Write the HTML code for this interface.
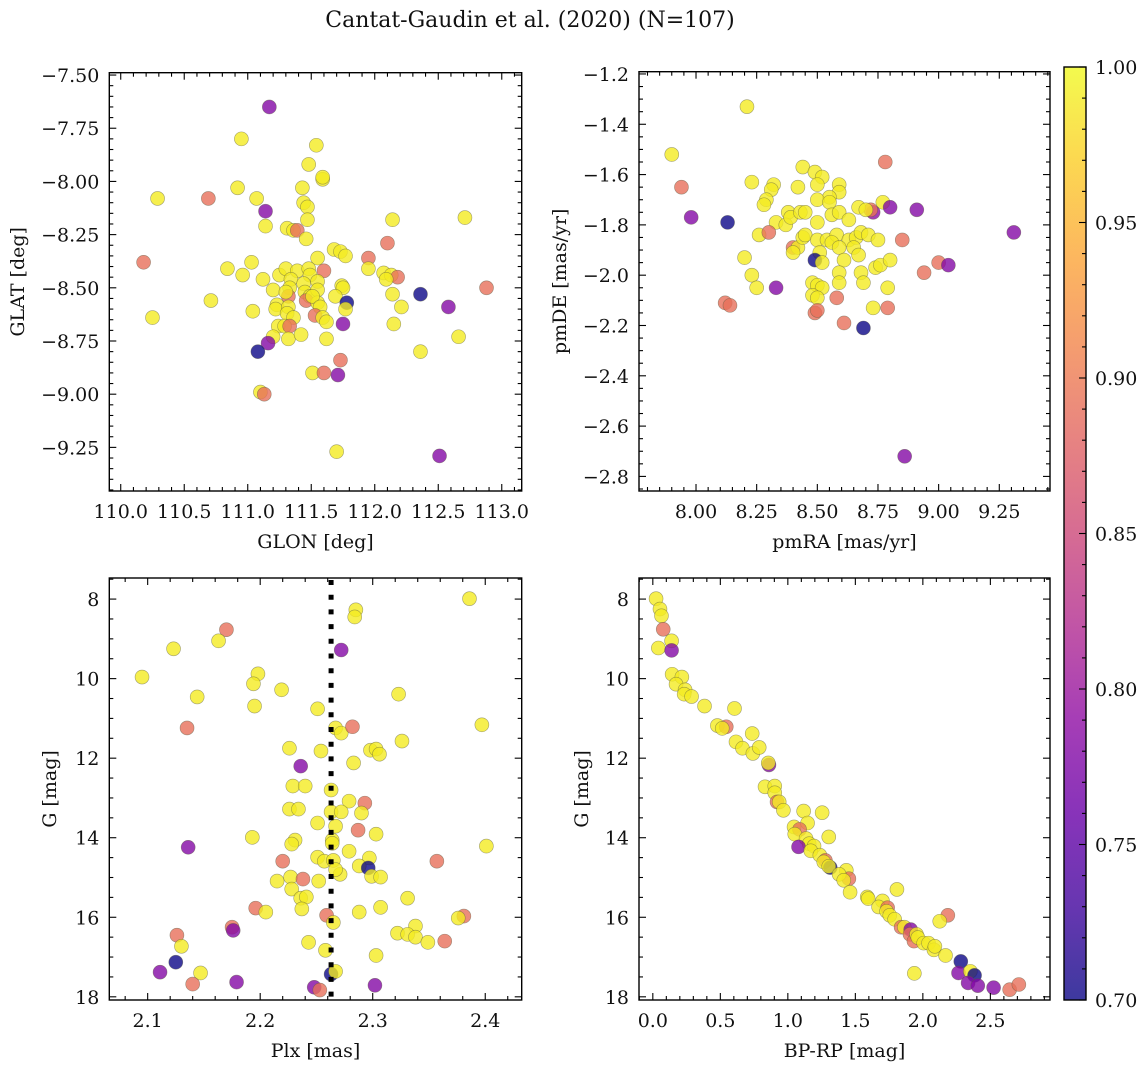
<!DOCTYPE html>
<html><head><meta charset="utf-8"><style>
html,body{margin:0;padding:0;background:#fff;}
svg text{font-family:"DejaVu Serif","Liberation Serif",serif;fill:#111;}
</style></head><body>
<svg id="fig" width="1148" height="1067" viewBox="0 0 1148 1067" xmlns="http://www.w3.org/2000/svg">
<text x="530" y="27" font-size="22" text-anchor="middle">Cantat-Gaudin et al. (2020) (N=107)</text>
</svg>
<script>
// ---------- data (y=0.99, s=0.89, p=0.78, n=0.70) ----------
const p1_glon=[111.17,110.29,110.69,110.18,110.25,110.95,110.92,111.07,111.14,111.14,111.31,111.36,111.39,111.46,111.43,111.44,111.47,111.47,111.59,112.14,112.10,111.95,111.95,112.07,112.13,112.18,112.09,112.36,112.14,112.21,112.15,112.36,111.68,111.73,111.77,111.55,111.60,110.84,111.03,110.96,111.12,111.25,111.30,111.39,111.48,111.49,111.34,111.20,111.33,111.32,111.30,111.44,111.45,111.49,111.46,111.55,111.55,111.55,111.51,111.57,111.53,111.59,111.62,111.74,111.75,111.69,111.78,111.77,111.75,111.04,111.23,111.22,111.32,111.31,111.36,111.24,111.29,111.33,111.20,111.32,111.42,111.62,111.16,111.08,111.73,111.51,111.60,111.71,110.71,111.10,111.13,111.48,111.54,111.59,111.70,112.71,112.88,112.51,112.58,112.66];
const p1_glat=[-7.65,-8.08,-8.08,-8.38,-8.64,-7.80,-8.03,-8.08,-8.14,-8.21,-8.22,-8.23,-8.23,-8.27,-8.03,-8.10,-8.12,-8.18,-7.99,-8.18,-8.29,-8.36,-8.41,-8.43,-8.44,-8.45,-8.46,-8.53,-8.53,-8.59,-8.67,-8.80,-8.32,-8.33,-8.35,-8.36,-8.42,-8.41,-8.38,-8.44,-8.46,-8.44,-8.41,-8.42,-8.41,-8.44,-8.46,-8.51,-8.50,-8.54,-8.52,-8.48,-8.52,-8.54,-8.56,-8.47,-8.51,-8.57,-8.54,-8.59,-8.63,-8.64,-8.66,-8.49,-8.50,-8.54,-8.57,-8.60,-8.67,-8.61,-8.58,-8.60,-8.59,-8.62,-8.64,-8.68,-8.68,-8.68,-8.73,-8.74,-8.72,-8.74,-8.76,-8.80,-8.84,-8.90,-8.90,-8.91,-8.56,-8.99,-9.00,-7.92,-7.83,-7.98,-9.27,-8.17,-8.50,-9.29,-8.59,-8.73];
const p1_prob=[0.78,0.99,0.89,0.89,0.99,0.99,0.99,0.99,0.78,0.99,0.99,0.99,0.89,0.99,0.99,0.99,0.99,0.99,0.99,0.99,0.89,0.89,0.99,0.99,0.99,0.89,0.99,0.70,0.99,0.99,0.99,0.99,0.99,0.99,0.99,0.99,0.89,0.99,0.99,0.99,0.99,0.99,0.99,0.99,0.99,0.99,0.99,0.99,0.99,0.89,0.99,0.99,0.99,0.99,0.89,0.99,0.99,0.99,0.99,0.99,0.89,0.99,0.99,0.99,0.99,0.99,0.70,0.99,0.78,0.99,0.99,0.99,0.99,0.99,0.99,0.99,0.99,0.89,0.99,0.99,0.99,0.99,0.78,0.70,0.89,0.99,0.89,0.78,0.99,0.99,0.89,0.99,0.99,0.99,0.99,0.99,0.89,0.78,0.78,0.99];

const p2_pmra=[7.90,7.94,7.98,8.21,8.13,8.12,8.14,8.23,8.32,8.31,8.29,8.28,8.44,8.49,8.52,8.42,8.50,8.59,8.59,8.55,8.50,8.55,8.78,8.77,8.73,8.72,8.80,8.91,8.38,8.33,8.37,8.39,8.43,8.45,8.50,8.56,8.59,8.63,8.67,8.70,8.26,8.30,8.40,8.42,8.40,8.44,8.45,8.50,8.54,8.58,8.63,8.66,8.68,8.71,8.75,8.56,8.59,8.65,8.51,8.49,8.52,8.61,8.67,8.74,8.76,8.80,8.85,8.94,9.00,9.04,9.31,8.20,8.23,8.25,8.33,8.59,8.59,8.68,8.69,8.48,8.50,8.52,8.48,8.50,8.58,8.79,8.73,8.79,8.49,8.50,8.61,8.69,8.86];
const p2_pmde=[-1.52,-1.65,-1.77,-1.33,-1.79,-2.11,-2.12,-1.63,-1.64,-1.66,-1.70,-1.72,-1.57,-1.59,-1.61,-1.65,-1.64,-1.64,-1.67,-1.69,-1.70,-1.71,-1.55,-1.71,-1.75,-1.74,-1.73,-1.74,-1.75,-1.79,-1.80,-1.77,-1.75,-1.75,-1.79,-1.76,-1.75,-1.78,-1.73,-1.74,-1.84,-1.83,-1.89,-1.89,-1.91,-1.85,-1.84,-1.86,-1.86,-1.84,-1.86,-1.85,-1.83,-1.84,-1.86,-1.87,-1.89,-1.89,-1.91,-1.94,-1.95,-1.94,-1.92,-1.97,-1.96,-1.94,-1.86,-1.99,-1.95,-1.96,-1.83,-1.93,-2.00,-2.05,-2.05,-1.99,-2.03,-1.99,-2.03,-2.03,-2.04,-2.05,-2.08,-2.09,-2.09,-2.05,-2.13,-2.13,-2.15,-2.14,-2.19,-2.21,-2.72];
const p2_prob=[0.99,0.89,0.78,0.99,0.70,0.89,0.89,0.99,0.99,0.99,0.99,0.99,0.99,0.99,0.99,0.99,0.99,0.99,0.99,0.99,0.99,0.99,0.89,0.99,0.79,0.89,0.78,0.78,0.99,0.99,0.99,0.99,0.99,0.99,0.99,0.99,0.99,0.99,0.99,0.99,0.99,0.89,0.89,0.99,0.99,0.99,0.99,0.99,0.99,0.99,0.99,0.99,0.99,0.99,0.99,0.99,0.99,0.99,0.99,0.70,0.99,0.99,0.99,0.99,0.99,0.99,0.89,0.89,0.89,0.78,0.78,0.99,0.99,0.99,0.78,0.99,0.99,0.99,0.99,0.99,0.99,0.99,0.99,0.99,0.89,0.99,0.99,0.89,0.89,0.89,0.89,0.70,0.78];

const p3_plx=[2.386,2.285,2.284,2.170,2.163,2.123,2.272,2.095,2.198,2.194,2.144,2.219,2.323,2.195,2.251,2.135,2.267,2.272,2.282,2.397,2.226,2.254,2.298,2.303,2.306,2.326,2.283,2.236,2.229,2.240,2.263,2.279,2.293,2.226,2.234,2.263,2.272,2.290,2.251,2.267,2.287,2.303,2.193,2.136,2.231,2.228,2.264,2.264,2.279,2.251,2.257,2.265,2.220,2.297,2.288,2.296,2.357,2.401,2.299,2.307,2.271,2.267,2.215,2.227,2.238,2.252,2.228,2.236,2.241,2.237,2.196,2.205,2.288,2.307,2.331,2.259,2.265,2.381,2.376,2.338,2.322,2.331,2.338,2.349,2.364,2.126,2.130,2.175,2.176,2.243,2.258,2.303,2.125,2.111,2.147,2.140,2.179,2.263,2.267,2.248,2.253,2.302];
const p3_g=[7.99,8.27,8.45,8.77,9.05,9.25,9.28,9.96,9.88,10.13,10.46,10.28,10.39,10.69,10.76,11.24,11.24,11.37,11.21,11.16,11.75,11.82,11.80,11.77,11.90,11.57,12.12,12.20,12.70,12.70,12.80,13.08,13.13,13.28,13.28,13.35,13.35,13.38,13.63,13.71,13.81,13.91,13.99,14.24,14.06,14.16,14.06,14.14,14.34,14.49,14.59,14.57,14.59,14.51,14.71,14.76,14.59,14.21,14.97,14.99,14.92,14.80,15.09,14.99,15.04,15.09,15.29,15.52,15.49,15.79,15.77,15.87,15.87,15.75,15.52,15.95,16.13,15.97,16.02,16.22,16.40,16.43,16.50,16.63,16.60,16.45,16.73,16.25,16.33,16.63,16.83,16.96,17.13,17.38,17.40,17.68,17.63,17.43,17.36,17.76,17.83,17.71];
const p3_prob=[0.99,0.99,0.99,0.89,0.99,0.99,0.78,0.99,0.99,0.99,0.99,0.99,0.99,0.99,0.99,0.89,0.99,0.99,0.89,0.99,0.99,0.99,0.99,0.99,0.99,0.99,0.99,0.78,0.99,0.99,0.99,0.99,0.89,0.99,0.99,0.99,0.99,0.99,0.99,0.99,0.89,0.99,0.99,0.78,0.99,0.99,0.99,0.99,0.99,0.99,0.99,0.99,0.89,0.99,0.99,0.70,0.89,0.99,0.99,0.99,0.99,0.99,0.99,0.99,0.89,0.99,0.99,0.99,0.99,0.99,0.89,0.99,0.99,0.99,0.99,0.89,0.99,0.89,0.99,0.99,0.99,0.99,0.99,0.99,0.89,0.89,0.99,0.89,0.78,0.99,0.99,0.99,0.70,0.78,0.99,0.89,0.78,0.70,0.99,0.78,0.89,0.78];
const p3_plxMean=[2.263];

const p4_bprp=[0.024,0.053,0.064,0.077,0.139,0.041,0.139,0.143,0.215,0.172,0.239,0.232,0.287,0.383,0.605,0.478,0.544,0.514,0.616,0.736,0.664,0.741,0.788,0.860,0.855,0.831,0.903,0.903,0.920,0.936,0.967,1.117,1.254,1.146,1.046,1.087,1.051,1.303,1.135,1.158,1.194,1.079,1.170,1.237,1.278,1.266,1.314,1.303,1.433,1.452,1.380,1.414,1.461,1.588,1.595,1.808,1.701,1.672,1.739,1.731,1.755,1.791,2.185,2.125,1.839,1.863,1.910,1.905,1.934,1.953,1.963,2.006,2.042,2.082,2.089,2.168,1.937,2.281,2.264,2.352,2.383,2.335,2.407,2.524,2.643,2.711];
const p4_g=[7.99,8.25,8.42,8.76,9.05,9.23,9.29,9.89,9.96,10.14,10.28,10.39,10.45,10.69,10.75,11.18,11.21,11.25,11.59,11.38,11.75,11.88,11.73,12.17,12.12,12.72,12.70,12.87,13.10,13.10,13.31,13.33,13.37,13.63,13.73,13.79,13.91,13.98,14.02,14.15,14.21,14.23,14.33,14.44,14.57,14.61,14.75,14.72,14.82,15.03,14.92,15.07,15.37,15.49,15.53,15.30,15.59,15.74,15.76,15.85,15.95,16.05,15.95,16.10,16.25,16.25,16.31,16.43,16.60,16.43,16.51,16.65,16.65,16.82,16.73,16.96,17.41,17.11,17.40,17.36,17.46,17.65,17.72,17.77,17.82,17.69];
const p4_prob=[0.99,0.99,0.99,0.89,0.99,0.99,0.78,0.99,0.99,0.99,0.99,0.99,0.99,0.99,0.99,0.99,0.89,0.99,0.99,0.99,0.99,0.99,0.99,0.78,0.99,0.99,0.99,0.99,0.89,0.99,0.99,0.99,0.99,0.99,0.99,0.89,0.99,0.99,0.99,0.99,0.99,0.78,0.99,0.99,0.89,0.99,0.70,0.99,0.99,0.89,0.99,0.99,0.99,0.99,0.99,0.99,0.99,0.99,0.89,0.99,0.99,0.99,0.89,0.99,0.89,0.99,0.78,0.89,0.89,0.99,0.99,0.99,0.99,0.99,0.99,0.99,0.99,0.70,0.78,0.99,0.70,0.78,0.78,0.78,0.89,0.89];

const cbar_ticks=[0.70,0.75,0.80,0.85,0.90,0.95,1.00];

// ---------- rendering ----------
const NS='http://www.w3.org/2000/svg';
const svg=document.getElementById('fig');
function mk(tag,attrs,parent){const e=document.createElementNS(NS,tag);for(const k in attrs)e.setAttribute(k,attrs[k]);(parent||svg).appendChild(e);return e;}
const stops=['#0d0887','#41049d','#6a00a8','#8f0da4','#b12a90','#cc4778','#e16462','#f2844b','#fca636','#fcce25','#f0f921'];
function hex(h){return[parseInt(h.slice(1,3),16),parseInt(h.slice(3,5),16),parseInt(h.slice(5,7),16)];}
function cmap(v){let t=(v-0.7)/0.3;t=Math.max(0,Math.min(1,t));const f=t*10,i=Math.min(9,Math.floor(f)),r=f-i;const a=hex(stops[i]),b=hex(stops[i+1]);return 'rgb('+a.map((c,k)=>Math.round(c+(b[k]-c)*r)).join(',')+')';}
const minus=s=>s.replace('-','\u2212');
const FS=19;

function panel(cfg){
  const g=mk('g',{});
  
  
  const X=v=>cfg.x0+(v-cfg.xmin)/(cfg.xmax-cfg.xmin)*(cfg.x1-cfg.x0);
  const Y=cfg.invert? v=>cfg.y0+(v-cfg.ymin)/(cfg.ymax-cfg.ymin)*(cfg.y1-cfg.y0)
                    : v=>cfg.y1-(v-cfg.ymin)/(cfg.ymax-cfg.ymin)*(cfg.y1-cfg.y0);
  const pts=mk('g',{},g);
  
  
  cfg.xs.forEach((xv,i)=>{
    const c=mk('circle',{cx:X(xv),cy:Y(cfg.ys[i]),r:7,fill:cmap(cfg.cs[i]),'fill-opacity':0.8,stroke:'#5a5a40','stroke-opacity':0.55,'stroke-width':0.6},pts);
    
    
  });
  if(cfg.vline){
    const l=mk('line',{x1:X(cfg.vline[0]),x2:X(cfg.vline[0]),y1:cfg.y0+2,y2:cfg.y1,stroke:'#000','stroke-width':5,'stroke-dasharray':'5 9.7'},g);
    
    
  }
  const fr=mk('rect',{x:cfg.x0,y:cfg.y0,width:cfg.x1-cfg.x0,height:cfg.y1-cfg.y0,fill:'none',stroke:'#000','stroke-width':1.4},g);
  
  
  const tk=mk('g',{stroke:'#000','stroke-width':1.1},g);
  
  
  const eps=1e-9;
  for(let v=Math.ceil(cfg.xmin/cfg.xminor-eps)*cfg.xminor;v<=cfg.xmax+eps;v+=cfg.xminor){
    const isMaj=Math.abs(v/cfg.xmajor-Math.round(v/cfg.xmajor))<1e-6;const L=isMaj?7:4;const px=X(v);
    mk('line',{x1:px,x2:px,y1:cfg.y1,y2:cfg.y1-L},tk);mk('line',{x1:px,x2:px,y1:cfg.y0,y2:cfg.y0+L},tk);
    if(isMaj){const t=mk('text',{x:px,y:cfg.y1+27,'font-size':FS,'text-anchor':'middle'},g);t.textContent=minus(v.toFixed(cfg.xdec));
      }
  }
  for(let v=Math.ceil(cfg.ymin/cfg.yminor-eps)*cfg.yminor;v<=cfg.ymax+eps;v+=cfg.yminor){
    const isMaj=Math.abs(v/cfg.ymajor-Math.round(v/cfg.ymajor))<1e-6;const L=isMaj?7:4;const py=Y(v);
    mk('line',{x1:cfg.x0,x2:cfg.x0+L,y1:py,y2:py},tk);mk('line',{x1:cfg.x1,x2:cfg.x1-L,y1:py,y2:py},tk);
    if(isMaj){const t=mk('text',{x:cfg.x0-10,y:py+7,'font-size':FS,'text-anchor':'end'},g);t.textContent=minus(v.toFixed(cfg.ydec));
      }
  }
  const xl=mk('text',{x:(cfg.x0+cfg.x1)/2,y:cfg.y1+57,'font-size':FS,'text-anchor':'middle'},g);xl.textContent=cfg.xlabel;
  
  const cy=(cfg.y0+cfg.y1)/2;
  const yl=mk('text',{x:cfg.ylx,y:cy,'font-size':FS,'text-anchor':'middle',transform:'rotate(-90 '+cfg.ylx+' '+cy+')'},g);yl.textContent=cfg.ylabel;
  
}

panel({name:'glon-glat-panel',x0:109.3,x1:521.7,y0:72.7,y1:491,xmin:109.910,xmax:113.157,ymin:-9.455,ymax:-7.489,
  xs:p1_glon,ys:p1_glat,cs:p1_prob,xmajor:0.5,xminor:0.1,ymajor:0.25,yminor:0.05,xdec:1,ydec:2,xlabel:'GLON [deg]',ylabel:'GLAT [deg]',ylx:24});
panel({name:'proper-motion-panel',x0:639,x1:1050,y0:71.7,y1:491,xmin:7.765,xmax:9.459,ymin:-2.858,ymax:-1.191,
  xs:p2_pmra,ys:p2_pmde,cs:p2_prob,xmajor:0.25,xminor:0.05,ymajor:0.2,yminor:0.05,xdec:2,ydec:1,xlabel:'pmRA [mas/yr]',ylabel:'pmDE [mas/yr]',ylx:566});
panel({name:'parallax-magnitude-panel',x0:109.3,x1:521.7,y0:578,y1:1000,xmin:2.0659,xmax:2.4324,ymin:7.47,ymax:18.08,invert:true,
  xs:p3_plx,ys:p3_g,cs:p3_prob,vline:p3_plxMean,xmajor:0.1,xminor:0.02,ymajor:2,yminor:0.5,xdec:1,ydec:0,xlabel:'Plx [mas]',ylabel:'G [mag]',ylx:56});
panel({name:'color-magnitude-panel',x0:639,x1:1050,y0:578,y1:1000,xmin:-0.1024,xmax:2.9417,ymin:7.47,ymax:18.08,invert:true,
  xs:p4_bprp,ys:p4_g,cs:p4_prob,xmajor:0.5,xminor:0.1,ymajor:2,yminor:0.5,xdec:1,ydec:0,xlabel:'BP-RP [mag]',ylabel:'G [mag]',ylx:588});

// colorbar
const cb=mk('g',{});


const defs=mk('defs',{},cb);
const lg=mk('linearGradient',{id:'cbg',x1:0,y1:1,x2:0,y2:0},defs);
stops.forEach((s,i)=>mk('stop',{offset:(i/10),'stop-color':s},lg));
const cx0=1064,cx1=1086,cy0=67,cy1=1000;
const CY=v=>cy1-(v-0.7)/0.3*(cy1-cy0);
mk('rect',{x:cx0,y:cy0,width:cx1-cx0,height:cy1-cy0,fill:'url(#cbg)','fill-opacity':0.8},cb);
mk('rect',{x:cx0,y:cy0,width:cx1-cx0,height:cy1-cy0,fill:'none',stroke:'#000','stroke-width':1.4},cb);
for(let v=0.70;v<=1.0001;v+=0.01){const py=CY(v);const maj=Math.abs(v*20-Math.round(v*20))<1e-6;
  mk('line',{x1:cx1,x2:cx1-(maj?7:4),y1:py,y2:py,stroke:'#000','stroke-width':1.1},cb);}
cbar_ticks.forEach(v=>{const t=mk('text',{x:cx1+9,y:CY(v)+7,'font-size':FS},cb);t.textContent=v.toFixed(2);
  });
</script>
</body></html>
